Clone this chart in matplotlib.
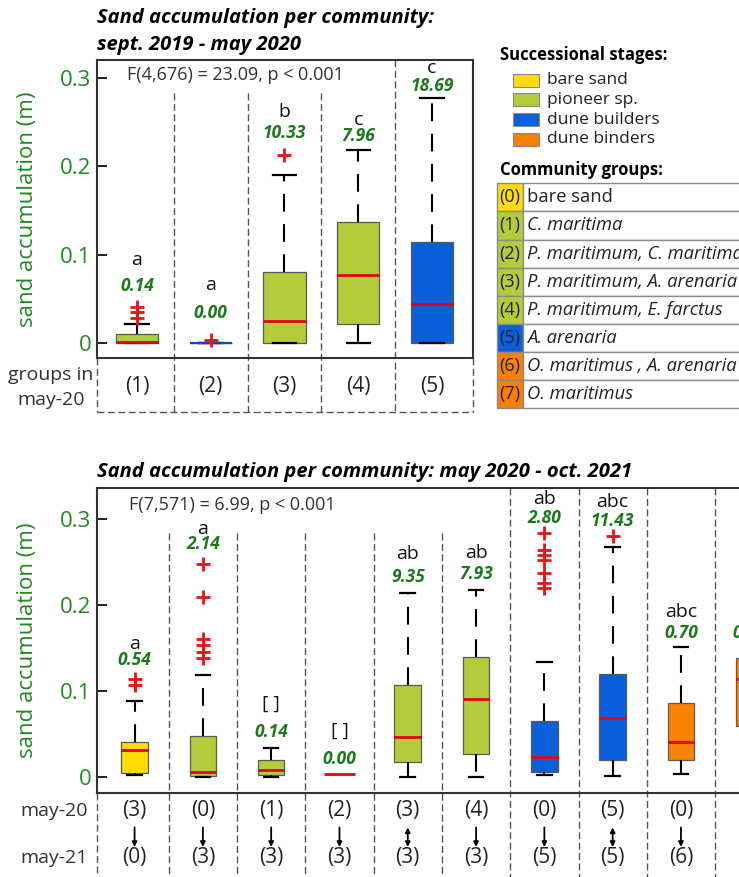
import numpy as np
import matplotlib
matplotlib.use("Agg")
import matplotlib.pyplot as plt
from matplotlib.patches import Rectangle

plt.rcParams["font.family"] = ["Open Sans", "DejaVu Sans"]

# ---------------------------------------------------------------- colours
C_BARE = "#ffdd00"
C_PIONEER = "#b3cc3a"
C_BUILDER = "#0a5fdc"
C_BINDER = "#f98000"
TICK_GREEN = "#1f8a1f"
NUM_GREEN = "#1b7a1b"
OUTLIER_RED = "#ee1111"

# ------------------------------------------------ panel 1: sept 2019 - may 2020
p1_groups = ["(1)", "(2)", "(3)", "(4)", "(5)"]
p1_colors = [C_PIONEER, C_PIONEER, C_PIONEER, C_PIONEER, C_BUILDER]
p1_q1 = [0.000, 0.000, 0.000, 0.021, 0.000]
p1_med = [0.001, 0.000, 0.025, 0.077, 0.044]
p1_q3 = [0.010, 0.000, 0.080, 0.137, 0.114]
p1_lo = [0.000, 0.000, 0.000, 0.000, 0.000]
p1_hi = [0.022, 0.000, 0.190, 0.219, 0.278]
p1_out = [[0.028, 0.035, 0.041], [0.003], [0.213], [], []]
p1_letters = ["a", "a", "b", "c", "c"]
p1_pct = ["0.14", "0.00", "10.33", "7.96", "18.69"]
p1_stat = "F(4,676) = 23.09, p < 0.001"

# ------------------------------------------------ panel 2: may 2020 - oct 2021
p2_from = ["(3)", "(0)", "(1)", "(2)", "(3)", "(4)", "(0)", "(5)", "(0)"]
p2_to = ["(0)", "(3)", "(3)", "(3)", "(3)", "(3)", "(5)", "(5)", "(6)"]
p2_colors = [C_BARE, C_PIONEER, C_PIONEER, C_PIONEER, C_PIONEER, C_PIONEER,
             C_BUILDER, C_BUILDER, C_BINDER, C_BINDER]
p2_q1 = [0.004, 0.001, 0.002, 0.003, 0.017, 0.027, 0.006, 0.020, 0.019, 0.059]
p2_med = [0.031, 0.005, 0.008, 0.003, 0.046, 0.091, 0.023, 0.068, 0.040, 0.114]
p2_q3 = [0.040, 0.048, 0.020, 0.003, 0.107, 0.140, 0.065, 0.120, 0.086, 0.138]
p2_lo = [0.002, 0.000, 0.000, 0.003, 0.000, 0.000, 0.002, 0.001, 0.003, 0.030]
p2_hi = [0.088, 0.118, 0.034, 0.003, 0.214, 0.218, 0.134, 0.268, 0.151, 0.160]
p2_out = [[0.107, 0.114],
          [0.138, 0.145, 0.153, 0.161, 0.210, 0.248],
          [], [], [], [],
          [0.220, 0.226, 0.237, 0.253, 0.258, 0.264, 0.284],
          [0.280],
          [], []]
p2_letters = ["a", "a", "[ ]", "[ ]", "ab", "ab", "ab", "abc", "abc", ""]
p2_pct = ["0.54", "2.14", "0.14", "0.00", "9.35", "7.93", "2.80", "11.43", "0.70", "0.86"]
p2_stat = "F(7,571) = 6.99, p < 0.001"

# ------------------------------------------------ legend content
stage_names = ["bare sand", "pioneer sp.", "dune builders", "dune binders"]
stage_colors = [C_BARE, C_PIONEER, C_BUILDER, C_BINDER]
group_ids = ["(0)", "(1)", "(2)", "(3)", "(4)", "(5)", "(6)", "(7)"]
group_names = ["bare sand", "C. maritima", "P. maritimum, C. maritima",
               "P. maritimum, A. arenaria", "P. maritimum, E. farctus",
               "A. arenaria", "O. maritimus , A. arenaria", "O. maritimus"]
group_italic = [False, True, True, True, True, True, True, True]
group_colors = [C_BARE, C_PIONEER, C_PIONEER, C_PIONEER, C_PIONEER,
                C_BUILDER, C_BINDER, C_BINDER]

# ---------------------------------------------------------------- figure
W, H = 739, 877
fig = plt.figure(figsize=(W / 100, H / 100), dpi=100)


def fx(px):
    return px / W


def fy(py):
    return 1 - py / H


def box_stats(q1, med, q3, lo, hi, out):
    return [dict(q1=a, med=b, q3=c, whislo=d, whishi=e, fliers=f)
            for a, b, c, d, e, f in zip(q1, med, q3, lo, hi, out)]


def draw_boxes(ax, stats, colors, width):
    pos = np.arange(1, len(stats) + 1)
    res = ax.bxp(stats, positions=pos, widths=width, capwidths=width * 0.55,
                 patch_artist=True, showfliers=True,
                 boxprops=dict(edgecolor="#5a5a5a", linewidth=0.9),
                 medianprops=dict(color="#e8000e", linewidth=2.0),
                 whiskerprops=dict(color="black", linewidth=1.5,
                                   linestyle=(0, (8.5, 6))),
                 capprops=dict(color="black", linewidth=1.6),
                 flierprops=dict(marker="+", markersize=10,
                                 markeredgecolor=OUTLIER_RED,
                                 markeredgewidth=2.0))
    for patch, col in zip(res["boxes"], colors):
        patch.set_facecolor(col)
    for med in res["medians"]:
        med.set_zorder(4)
    return res


def style_axes(ax, ylim):
    ax.set_ylim(*ylim)
    ax.set_yticks([0, 0.1, 0.2, 0.3])
    ax.set_yticklabels(["0", "0.1", "0.2", "0.3"])
    ax.tick_params(axis="y", direction="in", length=7, width=1.4,
                   labelsize=16, labelcolor=TICK_GREEN, pad=4, color="#222")
    ax.tick_params(axis="x", bottom=False, labelbottom=False)
    for s in ax.spines.values():
        s.set_linewidth(1.5)
        s.set_color("#333333")
    ax.set_ylabel("sand accumulation (m)", color=TICK_GREEN, fontsize=16,
                  labelpad=16)


DIV_KW = dict(color="#555555", linewidth=1.0, linestyle=(0, (5, 2.5)),
              clip_on=False)

# ================================================================ panel 1
ax1 = fig.add_axes([fx(97), fy(358), fx(473) - fx(97), fy(60) - fy(358)])
ylim1 = (-0.017, 0.3205)
n1 = len(p1_groups)
ax1.set_xlim(0.458, n1 + 0.556)
res1 = draw_boxes(ax1, box_stats(p1_q1, p1_med, p1_q3, p1_lo, p1_hi, p1_out),
                  p1_colors, 0.57)
# the empty (zero-height) box of group 2 shows as a blue bar
res1["medians"][1].set_color("#1a3fd0")
res1["medians"][1].set_linewidth(1.6)
res1["medians"][1].set_zorder(2)
style_axes(ax1, ylim1)

# dividers between communities
frac1 = lambda v: (v - ylim1[0]) / (ylim1[1] - ylim1[0])
div_top1 = [0.283, 0.283, 0.283, None]
for k, top in enumerate(div_top1):
    x = k + 1.5
    ytop = 1.0 if top is None else frac1(top)
    ax1.plot([x, x], [ytop, -0.181], transform=ax1.get_xaxis_transform(),
             **DIV_KW)
for x in (ax1.get_xlim()[0], ax1.get_xlim()[1]):
    ax1.plot([x, x], [0, -0.181], transform=ax1.get_xaxis_transform(), **DIV_KW)
ax1.plot(ax1.get_xlim(), [-0.181, -0.181], transform=ax1.get_xaxis_transform(),
         **DIV_KW)

# labels above boxes (letters: Tukey groups; numbers in green)
p1_letter_y = [0.094, 0.066, 0.262, 0.2525, 0.311]
p1_pct_y = [0.064, 0.034, 0.238, 0.234, 0.291]
for i in range(n1):
    ax1.text(i + 1, p1_letter_y[i], p1_letters[i], ha="center", va="center",
             fontsize=14, color="#111111")
    ax1.text(i + 1, p1_pct_y[i], p1_pct[i], ha="center", va="center",
             fontsize=12.5, color=NUM_GREEN, fontweight="bold", style="italic")
    ax1.text(i + 1, -0.097, p1_groups[i], ha="center", va="center",
             fontsize=15, color="#222222", transform=ax1.get_xaxis_transform())
ax1.text(2.33, 0.3035, p1_stat, ha="center", va="center", fontsize=13,
         color="#333333")
fig.text(fx(51), fy(375), "groups in", ha="center", va="center",
         fontsize=14, color="#333333")
fig.text(fx(51), fy(400), "may-20", ha="center", va="center",
         fontsize=14, color="#333333")

fig.text(fx(97), fy(18), "Sand accumulation per community:", ha="left",
         va="center", fontsize=14.5, fontweight="bold", style="italic")
fig.text(fx(97), fy(45), "sept. 2019 - may 2020", ha="left", va="center",
         fontsize=14.5, fontweight="bold", style="italic")

# ================================================================ panel 2
unit2 = 68.3
n2_axes = 11
left2 = 97
right2 = left2 + unit2 * n2_axes
ax2 = fig.add_axes([fx(left2), fy(793), fx(right2) - fx(left2), fy(488) - fy(793)])
ylim2 = (-0.019, 0.3365)
ax2.set_xlim(0.45, n2_axes + 0.45)
res2 = draw_boxes(ax2, box_stats(p2_q1, p2_med, p2_q3, p2_lo, p2_hi, p2_out),
                  p2_colors, 0.39)
# group 2 -> 3 only has a flat median bar
for art in (res2["caps"][6], res2["caps"][7], res2["whiskers"][6],
            res2["whiskers"][7]):
    art.set_visible(False)
res2["boxes"][3].set_visible(False)
res2["medians"][3].set_xdata([3.77, 4.23])
style_axes(ax2, ylim2)

frac2 = lambda v: (v - ylim2[0]) / (ylim2[1] - ylim2[0])
n2 = len(p2_pct)
for k in range(n2_axes):
    x = k + 1.5
    ytop = frac2(0.284) if k < 5 else 1.0
    ax2.plot([x, x], [ytop, -0.4], transform=ax2.get_xaxis_transform(), **DIV_KW)
ax2.plot([0.45, 0.45], [0, -0.4], transform=ax2.get_xaxis_transform(), **DIV_KW)

p2_letter_y = [0.155, 0.289, 0.085, 0.054, 0.259, 0.2605, 0.324, 0.3206, 0.192, 0.19]
p2_pct_y = [0.136, 0.271, 0.052, 0.021, 0.2326, 0.2365, 0.301, 0.2985, 0.168, 0.167]
for i in range(n2):
    if p2_letters[i]:
        ax2.text(i + 1, p2_letter_y[i], p2_letters[i], ha="center", va="center",
                 fontsize=14, color="#111111")
    ax2.text(i + 1, p2_pct_y[i], p2_pct[i], ha="center", va="center",
             fontsize=12.5, color=NUM_GREEN, fontweight="bold", style="italic")

xt = ax2.get_xaxis_transform()
for i, (a, b) in enumerate(zip(p2_from, p2_to)):
    x = i + 1
    ax2.text(x, -0.059, a, ha="center", va="center", fontsize=15,
             color="#222222", transform=xt)
    ax2.text(x, -0.213, b, ha="center", va="center", fontsize=15,
             color="#222222", transform=xt)
    style = "<|-|>" if a == b else "-|>"
    ax2.annotate("", xy=(x, -0.177), xytext=(x, -0.113), xycoords=xt,
                 textcoords=xt, annotation_clip=False,
                 arrowprops=dict(arrowstyle=style, color="black", lw=1.3,
                                 mutation_scale=7, shrinkA=0, shrinkB=0))
fig.text(fx(88), fy(811), "may-20", ha="right", va="center", fontsize=14,
         color="#333333")
fig.text(fx(88), fy(858), "may-21", ha="right", va="center", fontsize=14,
         color="#333333")
ax2.text(2.43, 0.3165, p2_stat, ha="center", va="center", fontsize=13,
         color="#333333")
fig.text(fx(97), fy(472), "Sand accumulation per community: may 2020 - oct. 2021",
         ha="left", va="center", fontsize=14.5, fontweight="bold", style="italic")

# ================================================================ legend
fig.text(fx(500), fy(55), "Successional stages:", ha="left", va="center",
         fontsize=12, fontweight="bold")
for k, (name, col) in enumerate(zip(stage_names, stage_colors)):
    yc = 80 + k * 19.8
    fig.patches.append(Rectangle((fx(513), fy(yc + 6.5)), fx(26), 13 / H,
                                 transform=fig.transFigure, facecolor=col,
                                 edgecolor="#888888", linewidth=0.8))
    fig.text(fx(547), fy(yc), name, ha="left", va="center", fontsize=12.5,
             color="#222222")

fig.text(fx(500), fy(170), "Community groups:", ha="left", va="center",
         fontsize=12, fontweight="bold")
row_h = 28.1
top = 183.3
for k in range(len(group_ids)):
    y0 = top + k * row_h
    fig.patches.append(Rectangle((fx(497), fy(y0 + row_h)), fx(26), row_h / H,
                                 transform=fig.transFigure,
                                 facecolor=group_colors[k], edgecolor="#8c8c8c",
                                 linewidth=1.0))
    fig.patches.append(Rectangle((fx(523), fy(y0 + row_h)), fx(300), row_h / H,
                                 transform=fig.transFigure, facecolor="white",
                                 edgecolor="#8c8c8c", linewidth=1.0))
    fig.text(fx(510), fy(y0 + row_h / 2), group_ids[k], ha="center",
             va="center", fontsize=13, color="#222222")
    fig.text(fx(527), fy(y0 + row_h / 2), group_names[k], ha="left",
             va="center", fontsize=13.2, color="#222222",
             style="italic" if group_italic[k] else "normal")

fig.savefig("out.png", dpi=100)
